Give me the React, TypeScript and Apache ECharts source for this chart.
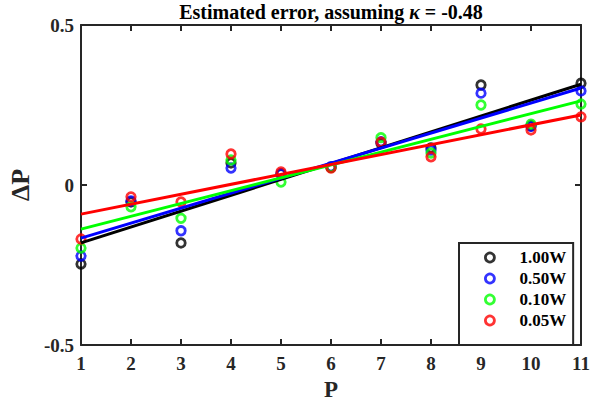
import React, { useEffect, useRef } from "react";
import * as echarts from "echarts";

const xValues = [1, 2, 3, 4, 5, 6, 7, 8, 9, 10, 11];
const seriesNames = ["1.00W", "0.50W", "0.10W", "0.05W"];
const seriesColors = ["#000000", "#0000ff", "#00ff00", "#ff0000"];
const err100 = [-0.247, -0.053, -0.181, 0.069, 0.035, 0.055, 0.13, 0.116, 0.3125, 0.185, 0.318];
const err050 = [-0.222, -0.05, -0.143, 0.053, 0.035, 0.057, 0.135, 0.109, 0.287, 0.183, 0.294];
const err010 = [-0.197, -0.068, -0.104, 0.078, 0.009, 0.055, 0.148, 0.1, 0.25, 0.19, 0.253];
const err005 = [-0.169, -0.037, -0.053, 0.097, 0.041, 0.053, 0.134, 0.088, 0.175, 0.172, 0.213];
const allErrors = [err100, err050, err010, err005];
// fitted line values read at x = 1 and x = 11
const fitX = [1, 11];
const fit100 = [-0.181, 0.315];
const fit050 = [-0.166, 0.303];
const fit010 = [-0.138, 0.263];
const fit005 = [-0.091, 0.219];
const allFits = [fit100, fit050, fit010, fit005];
const yTicks = { min: -0.5, max: 0.5, step: 0.5 };

const FONT = "'Liberation Serif', 'Times New Roman', serif";
const AXIS_COLOR = "#262626";

export default function App() {
  const ref = useRef<HTMLDivElement>(null);
  useEffect(() => {
    if (!ref.current) return;
    const chart = echarts.init(ref.current, undefined, { renderer: "svg" });
    const series: any[] = [];
    seriesNames.forEach((name, i) => {
      series.push({
        name,
        type: "scatter",
        xAxisIndex: 0,
        yAxisIndex: 0,
        clip: false,
        symbol: "circle",
        symbolSize: 8.5,
        itemStyle: { color: "rgba(0,0,0,0)", borderColor: seriesColors[i], borderWidth: 2.8 },
        data: xValues.map((x, j) => [x, allErrors[i][j]]),
      });
      series.push({
        name: name + " fit",
        type: "line",
        xAxisIndex: 0,
        yAxisIndex: 0,
        showSymbol: false,
        symbol: "none",
        lineStyle: { color: seriesColors[i], width: 3 },
        data: fitX.map((x, j) => [x, allFits[i][j]]),
      });
    });
    const tickStyle = { show: true, inside: true, length: 6, lineStyle: { color: AXIS_COLOR, width: 2 } };
    const lineStyle = { show: true, onZero: false, lineStyle: { color: AXIS_COLOR, width: 2 } };
    chart.setOption({
      animation: false,
      backgroundColor: "#ffffff",
      title: {
        text: "Estimated error, assuming {k|κ} = -0.48",
        left: 331,
        top: 2,
        textAlign: "center",
        padding: 0,
        textStyle: {
          fontFamily: FONT,
          fontWeight: "bold",
          fontSize: 20,
          color: "#000",
          rich: {
            k: { fontFamily: FONT, fontWeight: "bold", fontStyle: "italic", fontSize: 20, color: "#000" },
          },
        },
      },
      grid: { left: 81, right: 21, top: 25, bottom: 56, containLabel: false, outerBoundsMode: "none" },
      legend: {
        orient: "vertical",
        left: 459,
        top: 243,
        padding: [6, 7, 16, 25],
        itemWidth: 9,
        itemHeight: 9,
        itemGap: 4,
        borderColor: AXIS_COLOR,
        borderWidth: 2,
        backgroundColor: "#ffffff",
        textStyle: {
          fontFamily: FONT,
          fontWeight: "bold",
          fontSize: 17,
          color: "#000",
          lineHeight: 17,
          padding: [0, 0, 0, 20],
        },
        data: seriesNames.map((n, i) => ({
          name: n,
          icon: "circle",
          itemStyle: { color: "#ffffff", borderColor: seriesColors[i], borderWidth: 2.8 },
        })),
      },
      xAxis: [
        {
          type: "value",
          position: "bottom",
          min: xValues[0],
          max: xValues[xValues.length - 1],
          interval: 1,
          name: "P",
          nameLocation: "middle",
          nameGap: 32,
          nameTextStyle: { fontFamily: FONT, fontWeight: "bold", fontSize: 23, lineHeight: 23, color: "#262626" },
          axisLine: lineStyle,
          axisTick: tickStyle,
          splitLine: { show: false },
          axisLabel: { fontFamily: FONT, fontWeight: "bold", fontSize: 19, color: "#262626", margin: 9 },
        },
        {
          type: "value",
          position: "top",
          min: xValues[0],
          max: xValues[xValues.length - 1],
          interval: 1,
          axisLine: lineStyle,
          axisTick: tickStyle,
          splitLine: { show: false },
          axisLabel: { show: false },
        },
      ],
      yAxis: [
        {
          type: "value",
          position: "left",
          min: yTicks.min,
          max: yTicks.max,
          interval: yTicks.step,
          name: "ΔP",
          nameLocation: "middle",
          nameGap: 41,
          nameRotate: 90,
          nameTextStyle: { fontFamily: FONT, fontWeight: "bold", fontSize: 26, color: "#262626" },
          axisLine: lineStyle,
          axisTick: tickStyle,
          splitLine: { show: false },
          axisLabel: {
            fontFamily: FONT,
            fontWeight: "bold",
            fontSize: 19,
            color: "#262626",
            margin: 7,
            formatter: (v: number) => String(v),
          },
        },
        {
          type: "value",
          position: "right",
          min: yTicks.min,
          max: yTicks.max,
          interval: yTicks.step,
          axisLine: lineStyle,
          axisTick: tickStyle,
          splitLine: { show: false },
          axisLabel: { show: false },
        },
      ],
      series,
    });
    return () => chart.dispose();
  }, []);
  return <div ref={ref} style={{ position: "absolute", left: 0, top: 0, width: 602, height: 401 }} />;
}
